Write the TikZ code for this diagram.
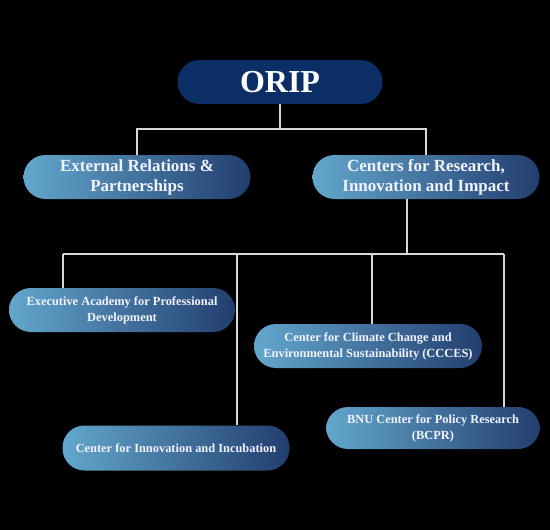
\documentclass[tikz,border=0pt]{standalone}
\usepackage{fontspec}
\setmainfont{Liberation Serif}
\usepackage{tikz}
\usetikzlibrary{positioning}
\definecolor{navy}{HTML}{0B2E66}
\definecolor{celeste}{HTML}{63A7CC}
\definecolor{azuloscuro}{HTML}{223E6F}
\definecolor{linea}{HTML}{D8D8D8}
\tikzset{
  every picture/.style={font=\bfseries},
  rootbox/.style={fill=navy, text=white, rounded corners=22pt,
              minimum width=205pt, minimum height=44pt, font=\fontsize{32}{36}\selectfont\bfseries},
  branchbox/.style={left color=celeste, right color=azuloscuro, text=white!95!blue, rounded corners=22pt,
              minimum width=227pt, minimum height=44pt, font=\fontsize{17}{20}\selectfont\bfseries, align=center},
  leafbox/.style={left color=celeste, right color=azuloscuro, text=white!95!blue, rounded corners=22pt,
              minimum width=227pt, minimum height=44pt, font=\fontsize{12.4}{16}\selectfont\bfseries, align=center},
  conn/.style={draw=linea, line width=1.8pt},
}

\begin{document}
\begin{tikzpicture}[x=1pt, y=-1pt]
  \fill[black] (0,0) rectangle (550,530);
  \useasboundingbox (0,0) rectangle (550,530);
  % boxes
  \node[rootbox] (orip) at (280,82) {ORIP};
  \node[branchbox] (ext) at (137,177) {External Relations \&\\Partnerships};
  \node[branchbox] (cri) at (426,177) {Centers for Research,\\Innovation and Impact};
  \node[leafbox, minimum width=226pt] (ead) at (122,310) {Executive Academy for Professional\\Development};
  \node[leafbox, minimum width=228pt] (ccc) at (368,346) {Center for Climate Change and\\Environmental Sustainability (CCCES)};
  \node[leafbox, minimum width=227pt, minimum height=45pt] (cii) at (176,448) {Center for Innovation and Incubation};
  \node[leafbox, minimum width=214pt, minimum height=42pt] (bcp) at (433,428) {BNU Center for Policy Research\\(BCPR)};
  % junction coordinates
  \coordinate (bus1) at (280,129);
  \coordinate (bus2) at (407,254);
  \coordinate (d1) at (63,254);
  \coordinate (d2) at (237,254);
  \coordinate (d3) at (372,254);
  \coordinate (d4) at (504,254);
  % connectors
  \draw[conn] (orip.south) -- (bus1);
  \draw[conn] (ext.north) -- (ext.north |- bus1) -- (cri.north |- bus1) -- (cri.north);
  \draw[conn] (bus2) -- (bus2 |- cri.south);
  \draw[conn] (d1) -- (d4);
  \draw[conn] (d1) -- (d1 |- ead.north);
  \draw[conn] (d2) -- (d2 |- cii.north);
  \draw[conn] (d3) -- (d3 |- ccc.north);
  \draw[conn] (d4) -- (d4 |- bcp.north);
\end{tikzpicture}
\end{document}
